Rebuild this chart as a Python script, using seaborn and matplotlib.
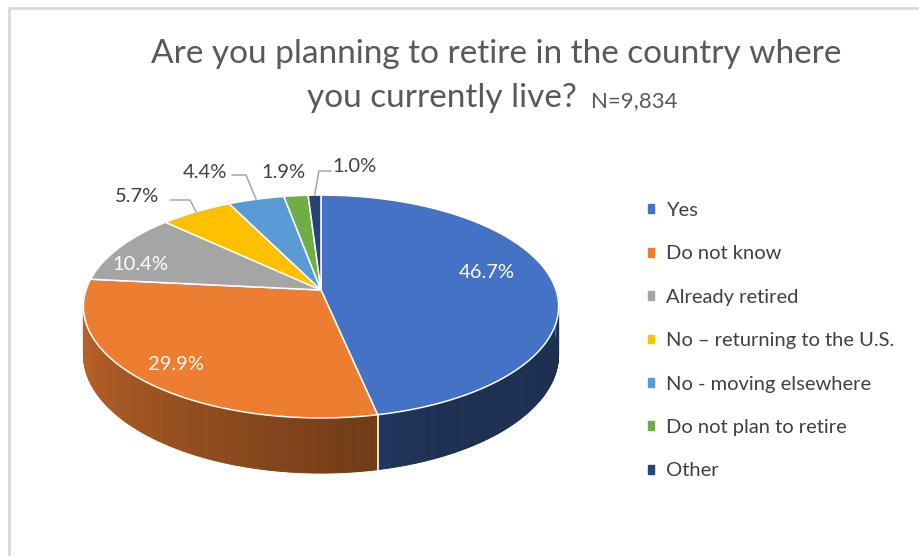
import numpy as np
import matplotlib
matplotlib.use("Agg")
import matplotlib.pyplot as plt
import seaborn as sns
from matplotlib.patches import Polygon, Patch

# ---------------- data ----------------
categories = ["Yes", "Do not know", "Already retired", "No – returning to the U.S.",
              "No - moving elsewhere", "Do not plan to retire", "Other"]
shares = [46.7, 29.9, 10.4, 5.7, 4.4, 1.9, 1.0]
pct_labels = ["46.7%", "29.9%", "10.4%", "5.7%", "4.4%", "1.9%", "1.0%"]
colors = ["#4472C4", "#ED7D31", "#A5A5A5", "#FFC000", "#5B9BD5", "#70AD47", "#264478"]
title_line1 = "Are you planning to retire in the country where"
title_line2 = "you currently live?"
title_n = "N=9,834"

# ---------------- style ----------------
sns.set_theme(style="white")
plt.rcParams['font.family'] = ['Lato', 'DejaVu Sans']

fig = plt.figure(figsize=(9.2, 5.56), dpi=100)
ax = fig.add_axes([0, 0, 1, 1])
ax.set_xlim(0, 920)
ax.set_ylim(556, 0)
ax.axis('off')

# chart-area border (light gray)
ax.plot([9, 9, 930], [570, 8, 8], color="#D9D9D9", lw=2.0, solid_capstyle='butt')

# ---------------- 3D pie geometry (perspective) ----------------
CX, CY = 321, 290      # vertex of the pie on screen
A, B, E, H = 235, 109, 0.148, 47


def proj(theta, r=1.0, drop=0.0):
    u = r * np.cos(theta)
    v = r * np.sin(theta)
    d = 1 + E * v
    return CX + A * u / d, CY - B * v / d + drop / d


fr = np.array(shares) / np.sum(shares)
cum = np.concatenate([[0], np.cumsum(fr)])
th_start = np.pi / 2 - 2 * np.pi * cum[:-1]
th_end = np.pi / 2 - 2 * np.pi * cum[1:]


def shade(theta):
    t = (np.mod(theta, 2 * np.pi) - np.pi) / np.pi
    return np.clip(0.84 - 0.65 * t, 0.42, 0.84)


# side walls (front half only)
for i in range(len(shares)):
    a0, a1 = th_end[i], th_start[i]
    lo = np.mod(a0, 2 * np.pi)
    hi = lo + (a1 - a0)
    seg_lo = max(lo, np.pi - 0.02)
    seg_hi = min(hi, 2 * np.pi + 0.02)
    if seg_hi <= seg_lo:
        continue
    n = max(2, int((seg_hi - seg_lo) / np.radians(0.5)))
    ts = np.linspace(seg_lo, seg_hi, n + 1)
    base = np.array(matplotlib.colors.to_rgb(colors[i]))
    for k in range(n):
        t0, t1 = ts[k], ts[k + 1]
        x0, y0 = proj(t0)
        x1, y1 = proj(t1)
        x0b, y0b = proj(t0, drop=H)
        x1b, y1b = proj(t1, drop=H)
        c = base * shade(0.5 * (t0 + t1))
        ax.add_patch(Polygon([[x0, y0], [x1, y1], [x1b, y1b], [x0b, y0b]],
                             closed=True, facecolor=c, edgecolor=c, lw=0.6))

# white seams on the side at slice boundaries
for t in th_start:
    tm = np.mod(t, 2 * np.pi)
    if np.pi < tm < 2 * np.pi:
        xa, ya = proj(tm)
        xb, yb = proj(tm, drop=H)
        ax.plot([xa, xb], [ya, yb], color="white", lw=1.2)

# top surface
for i in range(len(shares)):
    ts = np.linspace(th_start[i], th_end[i], 120)
    xs, ys = proj(ts)
    pts = np.column_stack([np.concatenate([[CX], xs]), np.concatenate([[CY], ys])])
    ax.add_patch(Polygon(pts, closed=True, facecolor=colors[i],
                         edgecolor="white", lw=1.1, joinstyle='round'))

# ---------------- data labels ----------------
inside_pos = {0: (487, 272), 1: (176, 364), 2: (140, 265)}
outside_pos = {3: (137, 197), 4: (205, 172), 5: (283, 172), 6: (354, 166)}
elbows = {3: [(170, 200), (190, 200)], 4: [(232, 175), (246, 175)], 6: [(331, 171), (319, 171)]}

lab_fs = 14.5
for i, (x, y) in inside_pos.items():
    ax.text(x, y, pct_labels[i], color="white", fontsize=lab_fs,
            ha="center", va="center")
for i, (x, y) in outside_pos.items():
    ax.text(x, y, pct_labels[i], color="#404040", fontsize=lab_fs,
            ha="center", va="center")
    if i in elbows:
        tm = 0.5 * (th_start[i] + th_end[i])
        rx, ry = proj(tm)
        (ex0, ey0), (ex1, ey1) = elbows[i]
        ax.plot([ex0, ex1, rx], [ey0, ey1, ry], color="#A6A6A6", lw=1.1)

# ---------------- title ----------------
ax.text(496, 63, title_line1, fontsize=24, color="#595959",
        ha="center", va="baseline")
ax.text(442, 107, title_line2, fontsize=24, color="#595959",
        ha="center", va="baseline")
ax.text(634, 107, title_n, fontsize=16, color="#595959",
        ha="center", va="baseline")

# ---------------- legend ----------------
handles = [Patch(facecolor=c, edgecolor=c) for c in colors]
leg = ax.legend(handles, categories, loc="upper left",
                bbox_to_anchor=(640 / 920, 1 - 194 / 556), frameon=False,
                fontsize=14.5, handlelength=0.3, handleheight=0.3,
                handletextpad=0.6, labelspacing=1.31, borderaxespad=0)
for t in leg.get_texts():
    t.set_color("#404040")

fig.savefig("out.png", dpi=100, facecolor="white")
